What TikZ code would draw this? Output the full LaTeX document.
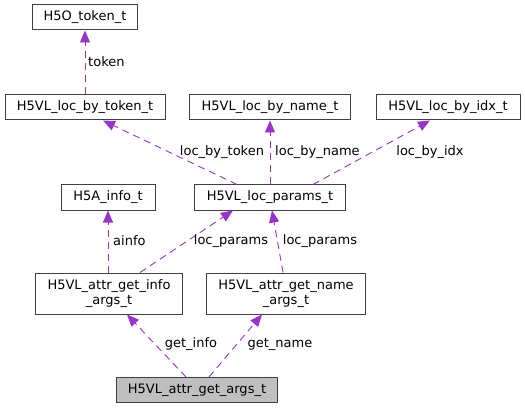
\documentclass[tikz,border=0pt]{standalone}
\usepackage{fontspec}
\setmainfont{DejaVu Sans}
\usetikzlibrary{arrows.meta, positioning}

\definecolor{edgepurple}{HTML}{9A32CD}
\definecolor{boxgray}{HTML}{404040}
\definecolor{rootfill}{HTML}{BFBFBF}

\tikzset{
  typebox/.style={draw=boxgray, line width=1pt, fill=white, inner sep=0pt,
    minimum height=25pt, align=center, font=\fontsize{13}{15}\selectfont, minimum width=#1},
  tallbox/.style={typebox=#1, minimum height=41pt},
  member/.style={draw=edgepurple, line width=0.9pt, dash pattern=on 7pt off 5pt,
    -{Triangle[length=12pt, width=10pt, fill=edgepurple]}},
  memberlabel/.style={inner sep=0pt, font=\fontsize{13}{15}\selectfont}
}

\begin{document}
\begin{tikzpicture}[x=1pt, y=-1pt]
\useasboundingbox (0,0) rectangle (525,409);

% type boxes
\node[typebox=105pt] (token) at (85,17.5) {H5O\_token\_t};
\node[typebox=160pt] (bytoken) at (85,107.5) {H5VL\_loc\_by\_token\_t};
\node[typebox=161pt] (byname) at (270,107.5) {H5VL\_loc\_by\_name\_t};
\node[typebox=144pt] (byidx) at (448,107.5) {H5VL\_loc\_by\_idx\_t};
\node[typebox=151pt] (params) at (270,197.5) {H5VL\_loc\_params\_t};
\node[typebox=94pt] (ainfo) at (108,197.5) {H5A\_info\_t};
\node[tallbox=147pt] (getinfo) at (109,293.5) {H5VL\_attr\_get\_info\\\_args\_t};
\node[tallbox=159pt] (getname) at (286,293.5) {H5VL\_attr\_get\_name\\\_args\_t};
\node[typebox=161pt, fill=rootfill] (args) at (197,390) {H5VL\_attr\_get\_args\_t};

% member edges
\draw[member] (bytoken.north) -- (token.south);
\draw[member] ([xshift=-33pt]params.north) -- ([xshift=18pt]bytoken.south);
\draw[member] (params.north) -- (byname.south);
\draw[member] ([xshift=43pt]params.north) -- ([xshift=-18pt]byidx.south);
\draw[member] ([xshift=-1pt]getinfo.north) -- (ainfo.south);
\draw[member] ([xshift=31pt]getinfo.north) -- ([xshift=-37pt]params.south);
\draw[member] ([xshift=-3pt]getname.north) -- ([xshift=2pt]params.south);
\draw[member] ([xshift=-11pt]args.north) -- ([xshift=18pt]getinfo.south);
\draw[member] ([xshift=12pt]args.north) -- ([xshift=-24pt]getname.south);

% edge labels
\node[memberlabel, anchor=west] (ltoken) at (88,62) {token};
\node[memberlabel] (lbytoken) at (222,152) {loc\_by\_token};
\node[memberlabel, anchor=west] (lbyname) at (275,152) {loc\_by\_name};
\node[memberlabel] (lbyidx) at (430,152) {loc\_by\_idx};
\node[memberlabel, anchor=west] (lainfo) at (113,241) {ainfo};
\node[memberlabel] (lparamsa) at (231,241) {loc\_params};
\node[memberlabel] (lparamsb) at (320,241) {loc\_params};
\node[memberlabel] (lgetinfo) at (191,344) {get\_info};
\node[memberlabel] (lgetname) at (280,344) {get\_name};

\end{tikzpicture}
\end{document}
